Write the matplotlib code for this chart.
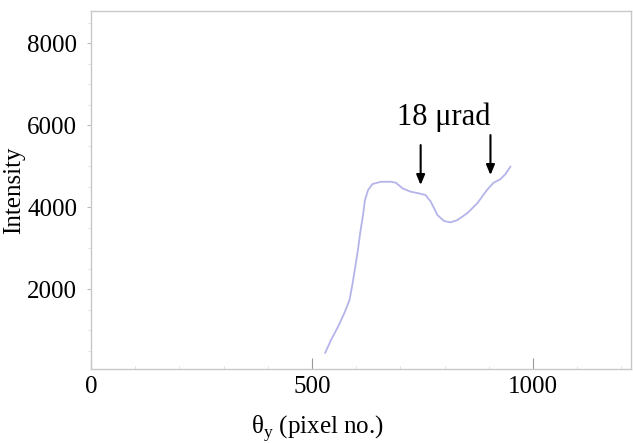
import matplotlib
matplotlib.use("Agg")
import matplotlib.pyplot as plt
from matplotlib.ticker import MultipleLocator

# intensity profile
pixel = [530, 543, 559, 573, 585, 592, 598, 604, 609, 615, 620, 627, 637, 656,
         679, 690, 705, 724, 742, 757, 769, 784, 799, 814, 829, 851, 874, 896,
         911, 926, 938, 949]
intensity = [446, 756, 1080, 1407, 1732, 2139, 2544, 2951, 3359, 3763, 4171,
             4415, 4561, 4617, 4617, 4593, 4456, 4373, 4334, 4293, 4130, 3805,
             3659, 3627, 3683, 3846, 4090, 4415, 4593, 4676, 4805, 4983]

arrow_x = [746, 904]
arrow_head = [4537, 4780]
arrow_tail = [5512, 5756]
note = "18 μrad"

plt.rcParams["font.family"] = ["Liberation Serif", "DejaVu Serif"]

fig = plt.figure(figsize=(6.33, 4.43), dpi=100)
ax = fig.add_axes([0.1438, 0.167, 0.853, 0.808])

ax.plot(pixel, intensity, color="#b4b4ea", lw=1.3)

for x, h, t in zip(arrow_x, arrow_head, arrow_tail):
    ax.annotate("", xy=(x, h), xytext=(x, t),
                arrowprops=dict(arrowstyle="-|>,head_length=0.6,head_width=0.25",
                                color="black", lw=1.5, shrinkA=0, shrinkB=0))
ax.text(798, 6195, note, fontsize=22, ha="center", va="center")

ax.set_xlim(5, 1222)
ax.set_ylim(50, 8780)
ax.set_xticks([0, 500, 1000])
ax.set_yticks([2000, 4000, 6000, 8000])
ax.xaxis.set_minor_locator(MultipleLocator(100))
ax.yaxis.set_minor_locator(MultipleLocator(500))

for s in ax.spines.values():
    s.set_color("#c8c8c8")
    s.set_linewidth(1.0)

ax.tick_params(axis="x", which="major", direction="in", length=8, color="#999999",
               labelsize=18, pad=5)
ax.tick_params(axis="x", which="minor", direction="in", length=2, color="#dddddd")
ax.tick_params(axis="y", which="major", direction="out", length=3, color="#bbbbbb",
               labelsize=18, pad=7)
ax.tick_params(axis="y", which="minor", direction="out", length=2, color="#dddddd")

ax.set_xlabel(r"θ$_\mathregular{y}$ (pixel no.)", fontsize=18)
ax.xaxis.set_label_coords(0.42, -0.125)
ax.set_ylabel("Intensity", fontsize=18)
ax.yaxis.set_label_coords(-0.122, 0.5)

fig.savefig("out.png", dpi=100)
